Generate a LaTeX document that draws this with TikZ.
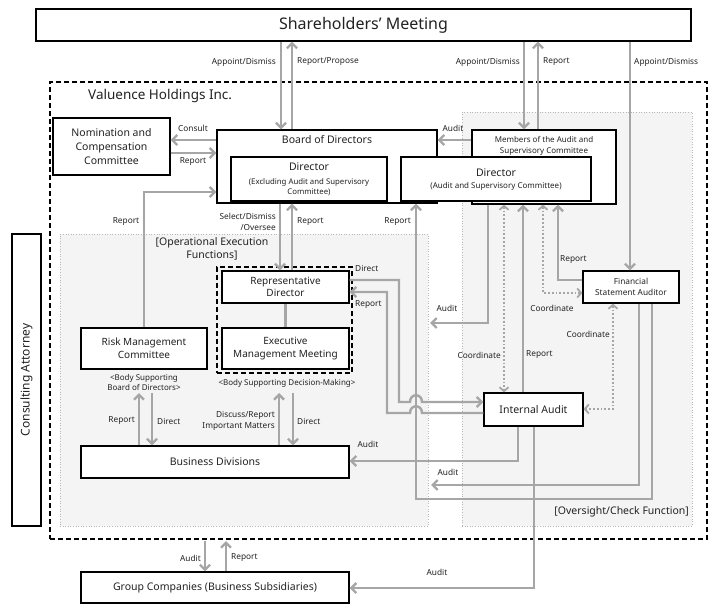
\documentclass[tikz,border=0pt]{standalone}
\usepackage{fontspec}
\setmainfont{Noto Sans}
\usetikzlibrary{arrows.meta}
\definecolor{arr}{HTML}{A6A6A6}
\definecolor{panel}{HTML}{F4F4F4}
\definecolor{txt}{HTML}{222222}
\begin{document}
\begin{tikzpicture}[x=1pt,y=-1pt,
  box/.style={draw=black, line width=1.2pt, fill=white, align=center, inner sep=0pt, text=txt, font=\fontsize{10.5}{13.5}\selectfont},
  panelbox/.style={draw=arr!80, dotted, line width=0.6pt, fill=panel, inner sep=0pt},
  dbox/.style={draw=black, dash pattern=on 5pt off 3pt, line width=1.2pt, inner sep=0pt},
  conn/.style={draw=arr, line width=2.4pt, -{Straight Barb[length=5pt,width=10pt]}},
  plain/.style={draw=arr, line width=2.4pt},
  coord/.style={draw=arr, line width=1.8pt, dotted, {Straight Barb[length=4pt,width=9pt]}-{Straight Barb[length=4pt,width=9pt]}},
  lbl/.style={font=\fontsize{8.3}{10.5}\selectfont, text=txt, inner sep=0pt, align=center},
  btxt/.style={font=\fontsize{10.5}{13.5}\selectfont, text=txt, inner sep=0pt, align=center},
  stxt/.style={font=\fontsize{8}{10.5}\selectfont, text=txt, inner sep=0pt, align=center}
]
\useasboundingbox (0,0) rectangle (721,610);
\fill[white] (0,0) rectangle (721,610);

% containers
\node[dbox, minimum width=657pt, minimum height=457pt] (hold) at (378.5,310.5) {};
\node[panelbox, minimum width=368pt, minimum height=292pt] (ops) at (244,380) {};
\node[panelbox, minimum width=230pt, minimum height=414pt] (over) at (577,319) {};
\node[anchor=west, inner sep=0pt, text=txt, font=\fontsize{13.5}{16}\selectfont] (holdlbl) at (88,96) {Valuence Holdings Inc.};
\node[btxt] (opslbl) at (212,249) {[Operational Execution\\Functions]};
\node[btxt, anchor=east] (overlbl) at (689,512) {[Oversight/Check Function]};
\node[dbox, minimum width=135pt, minimum height=106pt] (decision) at (284.5,320) {};

% boxes
\node[box, minimum width=655pt, minimum height=32pt, font=\fontsize{16}{19}\selectfont] (sh) at (363.5,25) {Shareholders’ Meeting};
\node[box, minimum width=117pt, minimum height=57pt, font=\fontsize{10.5}{14}\selectfont] (nom) at (111.5,146.5) {Nomination and\\Compensation\\Committee};
\node[box, minimum width=220pt, minimum height=73pt] (board) at (327,166.5) {};
\node[btxt] (boardlbl) at (327,140) {Board of Directors};
\node[box, minimum width=156pt, minimum height=44pt] (direx) at (309,179) {};
\node[btxt] (direxlbl) at (309,167) {Director};
\node[stxt, font=\fontsize{7.8}{10.5}\selectfont] (direxsub) at (309,187) {(Excluding Audit and Supervisory\\Committee)};
\node[box, minimum width=144pt, minimum height=74pt] (mem) at (544,167) {};
\node[stxt, font=\fontsize{8}{11}\selectfont] (memlbl) at (544,145.5) {Members of the Audit and\\Supervisory Committee};
\node[box, minimum width=190pt, minimum height=44pt] (diraud) at (496,179) {};
\node[btxt] (diraudlbl) at (496,172.5) {Director};
\node[stxt] (diraudsub) at (496,186) {(Audit and Supervisory Committee)};
\node[box, minimum width=127pt, minimum height=32pt, font=\fontsize{10}{12.5}\selectfont] (rep) at (285.5,287) {Representative\\Director};
\node[box, minimum width=127pt, minimum height=41pt, font=\fontsize{10}{13}\selectfont] (exec) at (285.5,348.5) {Executive\\Management Meeting};
\node[box, minimum width=126pt, minimum height=41pt, font=\fontsize{10}{13}\selectfont] (risk) at (144,348.5) {Risk Management\\Committee};
\node[box, minimum width=268pt, minimum height=32pt] (bus) at (215,462) {Business Divisions};
\node[box, minimum width=268pt, minimum height=31pt] (grp) at (215,587.5) {Group Companies (Business Subsidiaries)};
\node[box, minimum width=99pt, minimum height=33pt] (ia) at (533.5,409.5) {Internal Audit};
\node[box, minimum width=96pt, minimum height=32pt, font=\fontsize{8.3}{11}\selectfont] (fsa) at (631,287) {Financial\\Statement Auditor};
\node[box, minimum width=29pt, minimum height=292pt] (att) at (26.5,380) {};
\node[btxt, rotate=90, font=\fontsize{12}{14}\selectfont] (attlbl) at (26.5,380) {Consulting Attorney};
\node[stxt] (risksub) at (144,382.5) {<Body Supporting\\Board of Directors>};
\node[stxt] (decsub) at (287,383) {<Body Supporting Decision-Making>};

% connectors from shareholders
\draw[conn] (281,0 |- sh.south) -- (281,0 |- board.north);
\draw[conn] (292,0 |- board.north) -- (292,0 |- sh.south);
\draw[conn] (524,0 |- sh.south) -- (524,0 |- mem.north);
\draw[conn] (538,0 |- mem.north) -- (538,0 |- sh.south);
\draw[conn] (630,0 |- sh.south) -- (630,0 |- fsa.north);
% nomination
\draw[conn] (board.west |- 0,140) -- (nom.east |- 0,140);
\draw[conn] (nom.east |- 0,153) -- (board.west |- 0,153);
% risk report
\draw[conn] (risk.north) -- (144,192) -- (board.west |- 0,192);
% audit from members
\draw[conn] (mem.west |- 0,140) -- (board.east |- 0,140);
% board <-> representative
\draw[conn] (280,0 |- board.south) -- (280,0 |- rep.north);
\draw[conn] (292,0 |- rep.north) -- (292,0 |- board.south);
\draw[plain] (rep.south) -- (exec.north);
% FSA report to board (vertical x=416)
\draw[conn] (652,0 |- fsa.south) -- (652,499) -- (416,499) -- (416,0 |- board.south);
% direct / report between rep and internal audit, with hops
\draw[conn] (rep.east |- 0,280) -- (399,280) -- (399,402) -- (410,402) .. controls (410,393) and (422,393) .. (422,402) -- (ia.west |- 0,402);
\draw[conn] (ia.west |- 0,413) -- (422,413) .. controls (422,404) and (410,404) .. (410,413) -- (387,413) -- (387,292) -- (rep.east |- 0,292);
% FSA audit
\draw[conn] (639,0 |- fsa.south) -- (639,485) -- (431,485);
% audit committee audit
\draw[conn] (488,0 |- mem.south) -- (488,323) -- (430,323);
\draw[coord] (504,0 |- mem.south) -- (504,0 |- ia.north);
\draw[conn] (523,0 |- ia.north) -- (523,0 |- mem.south);
\draw[coord] (543,0 |- mem.south) -- (543,293) -- (fsa.west |- 0,293);
\draw[conn] (fsa.west |- 0,280) -- (558,280) -- (558,0 |- mem.south);
\draw[coord] (613,0 |- fsa.south) -- (613,409) -- (ia.east |- 0,409);
% internal audit
\draw[conn] (518,0 |- ia.south) -- (518,461) -- (bus.east |- 0,461);
\draw[conn] (534,0 |- ia.south) -- (534,588) -- (grp.east |- 0,588);
% business divisions
\draw[conn] (139,0 |- bus.north) -- (139,393);
\draw[conn] (152,393) -- (152,0 |- bus.north);
\draw[conn] (279,0 |- bus.north) -- (279,393);
\draw[conn] (293,393) -- (293,0 |- bus.north);
% group companies
\draw[conn] (205,541) -- (205,0 |- grp.north);
\draw[conn] (226,0 |- grp.north) -- (226,541);

% labels
\node[lbl, anchor=east] (l1) at (276,62) {Appoint/Dismiss};
\node[lbl, anchor=west] (l2) at (297,62) {Report/Propose};
\node[lbl, anchor=east] (l3) at (520,62) {Appoint/Dismiss};
\node[lbl, anchor=west] (l4) at (543,62) {Report};
\node[lbl, anchor=west] (l5) at (634,62) {Appoint/Dismiss};
\node[lbl] (l6) at (193,128) {Consult};
\node[lbl] (l7) at (193,162) {Report};
\node[lbl] (l8) at (453,128) {Audit};
\node[lbl] (l9) at (126,222) {Report};
\node[lbl, anchor=east, align=right] (l10) at (276,222) {Select/Dismiss\\/Oversee};
\node[lbl, anchor=west] (l11) at (297,222) {Report};
\node[lbl, anchor=east] (l12) at (411,222) {Report};
\node[lbl, anchor=west] (l13) at (355,268) {Direct};
\node[lbl, anchor=west] (l14) at (355,305) {Report};
\node[lbl] (l15) at (447,308) {Audit};
\node[lbl, anchor=east] (l16) at (501,355) {Coordinate};
\node[lbl, anchor=west] (l17) at (526,355) {Report};
\node[lbl] (l18) at (552,308) {Coordinate};
\node[lbl, anchor=west] (l19) at (560,260) {Report};
\node[lbl, anchor=east] (l20) at (610,334) {Coordinate};
\node[lbl] (l21) at (368,444) {Audit};
\node[lbl] (l22) at (448,472) {Audit};
\node[lbl] (l23) at (437,572) {Audit};
\node[lbl, anchor=east] (l24) at (135,421) {Report};
\node[lbl, anchor=west] (l25) at (157,421) {Direct};
\node[lbl, anchor=east, align=right] (l26) at (275,421) {Discuss/Report\\Important Matters};
\node[lbl, anchor=west] (l27) at (297,421) {Direct};
\node[lbl, anchor=east] (l28) at (201,558) {Audit};
\node[lbl, anchor=west] (l29) at (231,558) {Report};
\end{tikzpicture}
\end{document}
